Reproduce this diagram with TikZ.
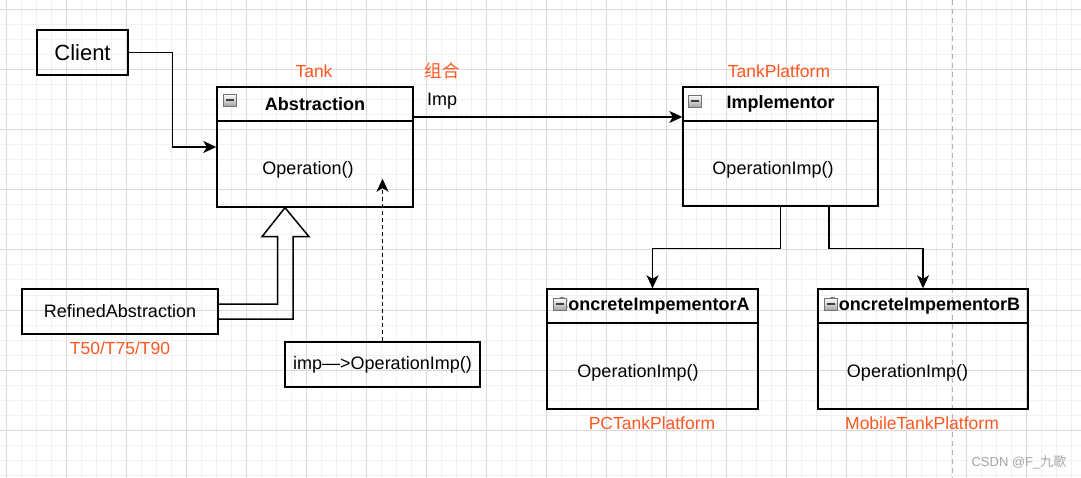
\documentclass[tikz,border=0pt]{standalone}
\usepackage{fontspec}
\setmainfont{Liberation Sans}
\newfontfamily\cjk{Noto Sans CJK SC}
\usetikzlibrary{arrows.meta,calc}
\definecolor{lblorange}{RGB}{255,87,34}
\definecolor{gridmajor}{RGB}{218,218,218}
\definecolor{gridminor}{RGB}{241,241,241}
\definecolor{wmgray}{RGB}{165,165,165}
\begin{document}
\begin{tikzpicture}[x=1pt,y=-1pt,
  box/.style={draw=black,line width=1.4pt,inner sep=0pt},
  txt/.style={inner sep=0pt,font=\fontsize{18}{21}\selectfont},
  lbl/.style={inner sep=0pt,text=lblorange,font=\fontsize{17.5}{21}\selectfont},
  title/.style={box,font=\fontsize{18}{21}\selectfont\bfseries},
  icon/.style={draw=black!55,line width=0.7pt,top color=white,bottom color=black!35,
    minimum width=13pt,minimum height=12pt,inner sep=0pt,
    path picture={\draw[line width=1.5pt,black!75]
      ($(path picture bounding box.west)+(2.5,0)$) -- ($(path picture bounding box.east)+(-2.5,0)$);}},
  arr/.style={line width=1.5pt,-{Stealth[length=13pt,width=12pt,inset=3.5pt]}},
  dasharr/.style={arr,dash pattern=on 4pt off 3pt},
  genarrow/.style={draw=black,line width=1.5pt,line join=miter}
]
\useasboundingbox (0,0) rectangle (1081,478);
\fill[white] (0,0) rectangle (1081,478);
% grid
\foreach \i in {0,...,71} {\pgfmathsetmacro\xx{6.67+15*\i}
  \draw[gridminor,line width=1pt] (\xx,0) -- (\xx,478);}
\foreach \i in {0,...,31} {\pgfmathsetmacro\yy{10+15*\i}
  \draw[gridminor,line width=1pt] (0,\yy) -- (1081,\yy);}
\foreach \i in {0,...,17} {\pgfmathsetmacro\xx{6.67+60*\i}
  \draw[gridmajor,line width=1pt] (\xx,0) -- (\xx,478);}
\foreach \i in {0,...,7} {\pgfmathsetmacro\yy{10+60*\i}
  \draw[gridmajor,line width=1pt] (0,\yy) -- (1081,\yy);}
\draw[black!30,line width=1pt,dash pattern=on 5pt off 4pt] (952.7,0) -- (952.7,478);

% nodes
\node[box,minimum width=91pt,minimum height=45pt,font=\fontsize{22}{26}\selectfont] (client) at (82.5,52.5) {Client};

\node[title,minimum width=196pt,minimum height=34pt] (abstrh) at (315,104) {Abstraction};
\node[box,minimum width=196pt,minimum height=86pt] (abstrb) at (315,164) {};
\node[txt] (abstrop) at ($(abstrb.center)+(-7,6)$) {Operation()};

\node[title,minimum width=195pt,minimum height=34pt] (implh) at (780.5,104) {Implementor};
\node[box,minimum width=195pt,minimum height=85pt] (implb) at (780.5,163.5) {};
\node[txt] (implop) at ($(implb.center)+(-7.5,6.5)$) {OperationImp()};

\node[title,minimum width=211pt,minimum height=34pt] (concAh) at (652.5,306) {ConcreteImpementorA};
\node[box,minimum width=211pt,minimum height=86pt] (concAb) at (652.5,366) {};
\node[txt] (concAop) at ($(concAb.center)+(-14.5,7)$) {OperationImp()};

\node[title,minimum width=210pt,minimum height=34pt] (concBh) at (923,306) {ConcreteImpementorB};
\node[box,minimum width=210pt,minimum height=86pt] (concBb) at (923,366) {};
\node[txt] (concBop) at ($(concBb.center)+(-15.5,7)$) {OperationImp()};

\node[box,txt,draw,line width=1.4pt,minimum width=196pt,minimum height=45pt] (refined) at (120,311.5) {RefinedAbstraction};
\node[box,txt,draw,line width=1.4pt,minimum width=195pt,minimum height=45pt] (impbox) at (382.5,364.5) {imp—>OperationImp()};

% icons
\node[icon] (abstri) at ($(abstrh.west)+(14,-4)$) {};
\node[icon] (impli) at ($(implh.west)+(13,-3)$) {};
\node[icon] (concAi) at ($(concAh.west)+(14,-2)$) {};
\node[icon] (concBi) at ($(concBh.west)+(14,-2)$) {};

% labels
\node[lbl] (tanklbl) at (314,71) {Tank};
\node[lbl,font=\cjk\fontsize{17.5}{21}\selectfont] (zuhe) at (442,71) {组合};
\node[txt] (implbl) at (442,101) {Imp};
\node[lbl] (tplbl) at (779,71) {TankPlatform};
\node[lbl] (tlbl) at (120,348) {T50/T75/T90};
\node[lbl] (pclbl) at (652,423) {PCTankPlatform};
\node[lbl] (moblbl) at (922,423) {MobileTankPlatform};
\node[inner sep=0pt,text=wmgray,font=\fontsize{13}{15}\selectfont] (wm) at (1019,462) {CSDN @F\_{\cjk 九歌}};

% connectors
\draw[arr] (client.east) -- ++(44,0) |- ($(abstrh.north west)!0.5!(abstrb.south west)$);
\draw[arr] ($(abstrh.east)+(0,13)$) coordinate (a1) -- (a1 -| implh.west);
\draw[arr] (implb.south) -- ++(0,42) -| (concAh.north);
\draw[arr] ($(implb.south)+(48.5,0)$) -- ++(0,42) -| (concBh.north);
\coordinate (dtip) at ($(abstrb.south)+(68,-29)$);
\draw[dasharr] (impbox.north) -- (impbox.north |- dtip);
% generalization (flex arrow)
\coordinate (gtip) at ($(abstrb.south)+(-30,0)$);
\coordinate (gcorner) at (refined.east -| gtip);
\draw[genarrow] ($(refined.east)+(0,-7.5)$) -- ($(gcorner)+(-7.5,-7.5)$)
  -- ($(gtip)+(-7.5,29)$) -- ($(gtip)+(-23,29)$) -- (gtip)
  -- ($(gtip)+(24,29)$) -- ($(gtip)+(8,29)$)
  -- ($(gcorner)+(8,7.5)$) -- ($(refined.east)+(0,7.5)$);
\end{tikzpicture}
\end{document}
